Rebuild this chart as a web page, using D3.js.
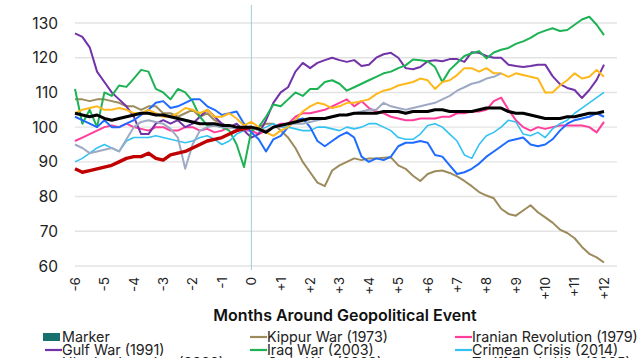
<!DOCTYPE html>
<html><head><meta charset="utf-8">
<script src="https://cdn.jsdelivr.net/npm/d3@7"></script>
<style>body{margin:0;background:#fff}svg{display:block;font-family:Inter,"Noto Sans",sans-serif}</style>
</head><body><svg id="c" width="640" height="358"></svg>
<script>
// x grid: quarter-month steps from -6 to +12
const months = d3.range(-6, 12.001, 0.25);
const xTickValues = [-6,-5,-4,-3,-2,-1,0,1,2,3,4,5,6,7,8,9,10,11,12];
const xTickLabels = ["-6","-5","-4","-3","-2","-1","0","+1","+2","+3","+4","+5","+6","+7","+8","+9","+10","+11","+12"];
const yTicks = [60,70,80,90,100,110,120,130];
const xTitle = "Months Around Geopolitical Event";

const kippur = [108,108,107.5,108,108,107.5,107,106,106,105,106,106,
 104,104,103,104,105,103,104,102,101,100,100,100,
 99, 100,101,101,99, 97,94,90,87, 84,83,87.5,89, 90,91,90.5,91, 91,91.2,91.3,89, 88,86,84.5,86.5, 87.3,87.5,86.8,85.8, 84.5,83,81.3,80.3, 79.5,76.5,75,74.5, 76,77.5,75.5,74, 72.5,70.5,69.5,68, 65.5,63.5,62.5,61];
const iranian = [96,97,98,99,100,100.5,100,101,100,99.5,99,100,
 100,99,99,100,100,99,99.5,98.5,99,100,100,99,
 99, 98,99,100,101, 101,103,104,104, 104.5,105,106,107, 108,106,107.5,105.5, 104.5,104,103,102.5, 102,102,102.5,102.5, 102.5,103,103,104, 104,104.5,104.5,105, 107.5,108.5,105,102, 100,99,100,99.5, 100,100.5,100.5,100.5, 100.5,100,98.5,101.5];
const gulf = [127,126,123,116,113,110,108,106,103,98,98,101,
 102,101,102,100,101,103,105,103,101,100,101,99,
 97, 98,102,107,110, 111.5,116,118.5,117, 118.5,119.3,120,119.3, 118.8,119.3,117.6,118, 120,121,121.4,120, 117,116.7,117.3,119, 119.3,119,119.6,119.6, 118.8,121.6,121.4,120.5, 120,120,118,117.6, 117.3,117.6,118,118, 114.7,112.4,111.3,110.7, 108.4,110.7,113.6,118];
const iraq = [111,101,105,100,110,109,112,111.6,114,116.5,116,111,
 110,108,111,110,107.5,103,100.5,100.5,100,99,95,88.5,
 99, 100,103,106.5,106, 108,110,109,111, 111,113,113.5,112.5, 110.5,111.5,112.5,113.5, 114.5,115.5,116,117, 117.8,119.5,119.3,119, 117.3,113,116.5,118.5, 120.5,121.3,121.9,119.8, 121.5,122.3,122.8,124, 124.7,125.7,127,127.8, 128.5,127.7,128,129.5, 131,131.8,129.5,126.5];
const crimean = [90,91,92.5,94,95,94,93,96,97,97,97,97.5,
 97,96.5,96,95.5,96,97,97.5,96.5,95,96,98,99,
 100, 99,100,101,100, 100,99.5,99,99, 100,100,99.5,99, 100,99.5,100,101, 101,100,99,97, 96.5,96.5,98,100.5, 101,100,98,96, 92,91,95,97.5, 98.5,100,102,101.5, 98,97.5,98.5,97, 99.5,101,102,104, 105.5,107,108.5,110];
const ukraine = [103,102,101,100,102,100,100,101,102,103.5,105,107,
 107.5,105.5,106,107,108,108,106,105,103.5,104,104.5,101,
 98.5, 96.5,93,96.5,97.5, 100,102,102.5,100, 96,94.5,96,97.5, 98.5,97,91.5,90, 91,90.5,91.5,94.5, 95.5,95.5,96,95.5, 92,91.5,89,86.5, 87,88,89.5,91.5, 93,94.5,96,96.5, 97,95,94.5,95, 96.5,99,101,102, 102.5,103,104,103];
const gaza = [104,105,105.5,106,105,105,105.5,105,104,104,105,104,
 103,103,104,105.5,105,104,105,103,103,104,102.5,100.5,
 101.5, 100,98.5,97.5,99, 100,102,104.5,106, 107,106.5,105.5,106, 107,107,107.5,108, 109.5,110.5,111,112, 112.5,113,114,113.5, 111,113,113.5,115, 117,117,116,117, 115.5,115.5,114.5,115.5, 115,114.5,114,110, 110,112,113.5,115.5, 114,114.5,116.5,114.5];
const tariff = [95,94,92.5,93,93.5,94,93,96.5,100,101.5,102,101.5,
 101,99.5,97,88,95,99,100,100.5,100,100,99.5,100,
 100, 99,99,100,100, 101,101,101,101.5, 102,102.5,103,103.5, 103.5,104,104.5,105, 105,107,106,105.5, 105,105.5,106,106.5, 107,108,109,110.5, 111.5,112.5,113,114, 114.5,115.5];
const current = [88,87,87.5,88,88.5,89,90,91,91.5,91.5,92.5,91,
 90.5,92,92.5,93,94,95,96,96.5,97,98,99,99.5,100];
const average = [104,103.5,103,103.5,102.5,102,102.5,103,103.5,104,104,103.5,
 103.5,103,102.5,102,101.5,101,101,101,100.5,100.5,100,100,
 100, 99.5,98.5,100,100.5, 101,101.5,102,102.5, 102.5,102.5,103,103.5, 103.5,104,104,104, 104,104.5,104.5,104.5, 104,104.5,104.5,104.5, 105,105,104.5,104.5, 104.5,104.5,105,105.5, 105.5,105.5,104.5,104, 104,103.5,103,102.5, 102.5,102.5,103,103, 103.5,104,104,104.5];

const seriesNames = ["Kippur War (1973)","Iranian Revolution (1979)","Gulf War (1991)","Iraq War (2003)","Crimean Crisis (2014)","Ukraine Invasion (2022)","Gaza War (2023)","Tariff Trade War (2025)","Current","Average"];
const seriesValues = [kippur, iranian, gulf, iraq, crimean, ukraine, gaza, tariff, current, average];
const seriesColors = ["#9c8b5c","#ff3d9a","#7232a8","#1db354","#33c2f2","#1f6bff","#ffb81c","#9eaac4","#c00000","#000000"];
const seriesWidths = [2,2,2,2,1.6,2,2,2,3.4,3];

const svg = d3.select("#c");
const x = d3.scaleLinear().domain([-6, 12]).range([75, 604]);
const y = d3.scaleLinear().domain([60, 130]).range([266, 23]);

// gridlines
svg.append("g").selectAll("line").data(yTicks).join("line")
  .attr("x1", 75).attr("x2", 617)
  .attr("y1", d => y(d)).attr("y2", d => y(d))
  .attr("stroke", "#e3e3e3").attr("stroke-width", 1.4);

// y labels
svg.append("g").selectAll("text").data(yTicks).join("text")
  .attr("x", 58).attr("y", d => y(d)).attr("dy", "0.36em")
  .attr("text-anchor", "end").attr("font-size", 15.5).attr("fill", "#222")
  .text(d => d);

// event vertical line
svg.append("line").attr("x1", x(0)).attr("x2", x(0)).attr("y1", 5).attr("y2", 270)
  .attr("stroke", "#9fcdd3").attr("stroke-width", 1);

// lines
const line = d3.line().defined(d => d[1] != null).x(d => x(d[0])).y(d => y(d[1]));
seriesValues.forEach((vals, i) => {
  const pts = vals.map((v, j) => [months[j], v]);
  svg.append("path").datum(pts).attr("d", line)
    .attr("fill", "none").attr("stroke", seriesColors[i])
    .attr("stroke-width", seriesWidths[i]).attr("stroke-linejoin", "round");
});

// x tick labels (rotated)
svg.append("g").selectAll("text").data(xTickValues).join("text")
  .attr("transform", d => `translate(${x(d)},277) rotate(-90)`)
  .attr("text-anchor", "end").attr("dy", "0.36em")
  .attr("font-size", 13.5).attr("fill", "#222")
  .text((d, i) => xTickLabels[i]);

// x title
svg.append("text").attr("x", 345).attr("y", 321).attr("text-anchor", "middle")
  .attr("font-size", 16).attr("font-weight", 600).attr("fill", "#111").text(xTitle);

// legend
const legendItems = [{name: "Marker", color: "#17706e", type: "rect"}]
  .concat(seriesNames.map((n, i) => ({name: n, color: seriesColors[i], type: "line"})));
const colX = [43, 248, 453];
const lg = svg.append("g").attr("font-size", 14.3).attr("fill", "#222");
legendItems.forEach((it, i) => {
  const cx = colX[i % 3], cy = 337 + Math.floor(i / 3) * 13;
  if (it.type === "rect") {
    lg.append("rect").attr("x", cx).attr("y", cy - 4).attr("width", 17).attr("height", 8).attr("fill", it.color);
  } else {
    lg.append("line").attr("x1", cx + 2).attr("x2", cx + 19).attr("y1", cy).attr("y2", cy)
      .attr("stroke", it.color).attr("stroke-width", 2.2);
  }
  lg.append("text").attr("x", cx + 19).attr("y", cy).attr("dy", "0.36em").text(it.name);
});
</script></body></html>
